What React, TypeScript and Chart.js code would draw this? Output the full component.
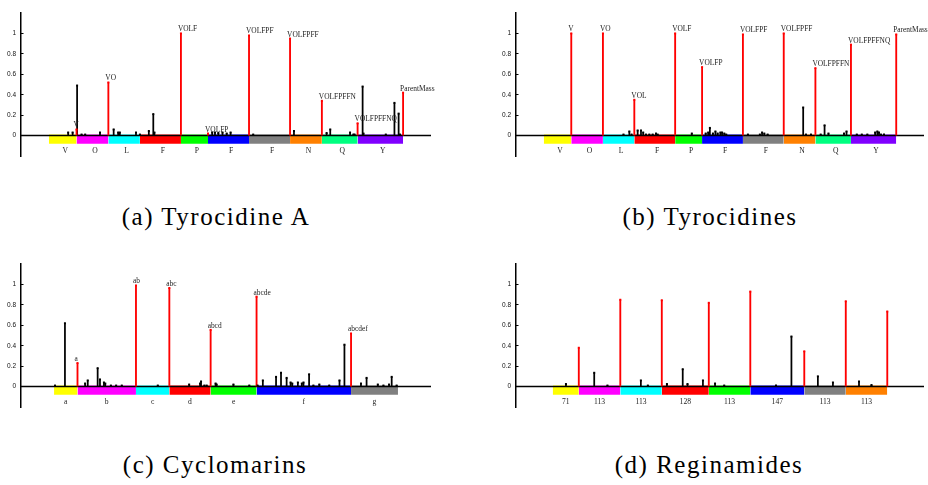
import React, { useEffect, useRef } from 'react';
import { Chart, registerables } from 'chart.js';
Chart.register(...registerables);

const yTicks = [0, 0.2, 0.4, 0.6, 0.8, 1];

// ---- (a) Tyrocidine A
const residuesA = ['V', 'O', 'L', 'F', 'P', 'F', 'F', 'N', 'Q', 'Y'];
const massesA = [99, 114, 113, 147, 97, 147, 147, 114, 128, 163];
const colorsA = ['#ffff00', '#ff00ff', '#00ffff', '#ff0000', '#00ff00', '#0000ff', '#808080', '#ff8000', '#00ff80', '#8000ff'];
const redLabelsA = ['V', 'VO', 'VOLF', 'VOLFP', 'VOLFPF', 'VOLFPFF', 'VOLFPFFN', 'VOLFPFFNQ', 'ParentMass'];
const redMassA = [99, 213, 473, 570, 717, 864, 978, 1106, 1269];
const redHeightA = [0.06, 0.52, 1.0, 0.02, 0.98, 0.95, 0.34, 0.12, 0.42];
const blackMassA = [69, 85, 101, 117, 130, 183, 232, 248, 254, 312, 326, 358, 374, 378, 585, 595, 607, 622, 637, 651, 732, 878, 995, 1008, 1079, 1091, 1095, 1124, 1127, 1207, 1238, 1253, 1258];
const blackHeightA = [0.03, 0.03, 0.49, 0.01, 0.01, 0.03, 0.06, 0.03, 0.03, 0.03, 0.01, 0.045, 0.21, 0.03, 0.03, 0.03, 0.025, 0.03, 0.02, 0.03, 0.01, 0.045, 0.025, 0.06, 0.03, 0.01, 0.01, 0.48, 0.02, 0.01, 0.32, 0.215, 0.01];

// ---- (b) Tyrocidines
const residuesB = ['V', 'O', 'L', 'F', 'P', 'F', 'F', 'N', 'Q', 'Y'];
const massesB = [99, 114, 113, 147, 97, 147, 147, 114, 128, 163];
const colorsB = ['#ffff00', '#ff00ff', '#00ffff', '#ff0000', '#00ff00', '#0000ff', '#808080', '#ff8000', '#00ff80', '#8000ff'];
const redLabelsB = ['V', 'VO', 'VOL', 'VOLF', 'VOLFP', 'VOLFPF', 'VOLFPFF', 'VOLFPFFN', 'VOLFPFFNQ', 'ParentMass'];
const redMassB = [99, 213, 326, 473, 570, 717, 864, 978, 1106, 1269];
const redHeightB = [1.0, 1.0, 0.35, 1.0, 0.67, 0.99, 1.0, 0.66, 0.89, 0.99];
const blackMassB = [287, 308, 316, 338, 350, 358, 368, 380, 392, 404, 410, 533, 583, 592, 598, 609, 618, 626, 636, 642, 650, 657, 735, 778, 786, 794, 806, 934, 944, 962, 997, 1011, 1025, 1081, 1090, 1127, 1145, 1165, 1193, 1201, 1207, 1214, 1225];
const blackHeightB = [0.01, 0.04, 0.01, 0.05, 0.05, 0.03, 0.01, 0.01, 0.01, 0.02, 0.01, 0.02, 0.02, 0.03, 0.075, 0.02, 0.04, 0.02, 0.03, 0.03, 0.02, 0.01, 0.01, 0.01, 0.03, 0.02, 0.01, 0.275, 0.01, 0.01, 0.01, 0.1, 0.02, 0.02, 0.04, 0.01, 0.01, 0.01, 0.03, 0.04, 0.03, 0.01, 0.01];

// ---- (c) Cyclomarins
const residuesC = ['a', 'b', 'c', 'd', 'e', 'f', 'g'];
const massesC = [71, 177, 101, 125, 139, 286, 142];
const colorsC = ['#ffff00', '#ff00ff', '#00ffff', '#ff0000', '#00ff00', '#0000ff', '#808080'];
const redLabelsC = ['a', 'ab', 'abc', 'abcd', 'abcde', 'abcdef'];
const redMassC = [71, 248, 349, 474, 613, 899];
const redHeightC = [0.23, 0.99, 0.965, 0.555, 0.88, 0.52];
const blackMassC = [3, 33, 94, 102, 132, 139, 151, 155, 172, 188, 205, 314, 409, 442, 445, 455, 462, 489, 492, 543, 591, 616, 632, 672, 687, 704, 716, 721, 738, 750, 755, 772, 785, 803, 833, 864, 879, 929, 946, 980, 997, 1014, 1022, 1037];
const blackHeightC = [0.01, 0.62, 0.03, 0.06, 0.18, 0.07, 0.04, 0.03, 0.01, 0.01, 0.01, 0.01, 0.02, 0.03, 0.05, 0.01, 0.01, 0.03, 0.02, 0.02, 0.01, 0.01, 0.06, 0.095, 0.135, 0.085, 0.04, 0.03, 0.04, 0.03, 0.04, 0.12, 0.01, 0.02, 0.01, 0.06, 0.41, 0.03, 0.085, 0.02, 0.01, 0.02, 0.095, 0.01];

// ---- (d) Reginamides
const residuesD = ['71', '113', '113', '128', '113', '147', '113', '113'];
const massesD = [71, 113, 113, 128, 113, 147, 113, 113];
const colorsD = ['#ffff00', '#ff00ff', '#00ffff', '#ff0000', '#00ff00', '#0000ff', '#808080', '#ff8000'];
const redLabelsD: string[] = [];
const redMassD = [71, 184, 297, 425, 538, 685, 798, 911];
const redHeightD = [0.38, 0.85, 0.845, 0.82, 0.93, 0.345, 0.835, 0.735];
const blackMassD = [36, 113, 149, 240, 259, 311, 354, 367, 409, 442, 467, 608, 650, 722, 763, 834, 868];
const blackHeightD = [0.025, 0.135, 0.01, 0.06, 0.01, 0.025, 0.17, 0.025, 0.06, 0.03, 0.01, 0.01, 0.49, 0.1, 0.04, 0.05, 0.015];

const captions = ['(a) Tyrocidine A', '(b) Tyrocidines', '(c) Cyclomarins', '(d) Reginamides'];

type PanelProps = {
  left: number; top: number; width: number;
  residues: string[]; masses: number[]; colors: string[];
  redLabels: string[]; redMass: number[]; redHeight: number[];
  blackMass: number[]; blackHeight: number[]; letterDx: number;
};

function Panel(p: PanelProps) {
  const ref = useRef<HTMLCanvasElement>(null);
  useEffect(() => {
    const total = p.masses.reduce((a, b) => a + b, 0);
    const starts: number[] = [];
    let acc = 0;
    p.masses.forEach((m) => { starts.push(acc); acc += m; });
    const segDatasets = p.masses.map((m, i) => ({
      type: 'line' as const,
      data: [{ x: starts[i], y: 0.01 }, { x: starts[i] + m, y: 0.01 }],
      borderWidth: 0,
      borderColor: 'rgba(0,0,0,0)',
      pointRadius: 0,
      backgroundColor: p.colors[i],
      fill: { value: -0.08 },
      order: 5,
    }));
    const labelsPlugin = {
      id: 'labels' + p.left + '_' + p.top,
      afterDatasetsDraw(chart: any) {
        const xs = chart.scales.x, ys = chart.scales.y;
        const ctx = chart.ctx;
        ctx.save();
        ctx.fillStyle = '#222';
        ctx.font = '7.4px "Liberation Serif"';
        ctx.textAlign = 'left';
        ctx.textBaseline = 'alphabetic';
        p.redLabels.forEach((t, i) => {
          ctx.fillText(t, xs.getPixelForValue(p.redMass[i]) - 3, ys.getPixelForValue(p.redHeight[i]) - 2);
        });
        ctx.font = '7.6px "Liberation Serif"';
        ctx.textAlign = 'center';
        p.residues.forEach((t, i) => {
          ctx.fillText(t, xs.getPixelForValue(starts[i] + p.masses[i] / 2) + p.letterDx, ys.getPixelForValue(-0.172));
        });
        ctx.restore();
      },
    };
    const chart = new Chart(ref.current as HTMLCanvasElement, {
      type: 'bar',
      data: {
        datasets: [
          ...segDatasets,
          {
            type: 'line',
            data: [{ x: -100, y: 0 }, { x: total + 100, y: 0 }],
            borderColor: '#000', borderWidth: 1.5, pointRadius: 0, fill: false, order: 4,
          },
          {
            type: 'bar',
            data: p.blackMass.map((m, i) => ({ x: m, y: [0, p.blackHeight[i]] })),
            backgroundColor: '#000', barThickness: 1.1, grouped: false, borderWidth: 0, order: 3,
          },
          {
            type: 'bar',
            data: p.redMass.map((m, i) => ({ x: m, y: [0, p.redHeight[i]] })),
            backgroundColor: '#ff0000', barThickness: 1.2, grouped: false, borderWidth: 0, order: 2,
          },
          {
            type: 'scatter',
            data: p.blackMass.map((m, i) => ({ x: m, y: p.blackHeight[i] })),
            pointStyle: 'rect', pointRadius: 1.4, backgroundColor: '#000', borderWidth: 0, order: 1,
          },
          {
            type: 'scatter',
            data: p.redMass.map((m, i) => ({ x: m, y: p.redHeight[i] })),
            pointStyle: 'rect', pointRadius: 1.4, backgroundColor: '#ff0000', borderWidth: 0, order: 0,
          },
        ] as any,
      },
      options: {
        responsive: false,
        animation: false,
        devicePixelRatio: 1,
        layout: { padding: { left: 0, right: p.width - 431, top: 13, bottom: 44 } },
        plugins: { legend: { display: false }, tooltip: { enabled: false } },
        scales: {
          x: { type: 'linear', min: -100, max: total + 100, display: false, offset: false },
          y: {
            min: -0.2, max: 1.2,
            afterBuildTicks: (s: any) => { s.ticks = yTicks.map((v) => ({ value: v })); },
            afterFit: (s: any) => { s.width = 21; },
            ticks: { font: { family: '"Liberation Sans"', size: 6.5 }, color: '#111', padding: 7.5, callback: (v: any) => String(v) },
            grid: { drawOnChartArea: false, drawTicks: true, tickLength: -2.5, color: '#000', lineWidth: 1 },
            border: { display: true, color: '#000', width: 1.5 },
          },
        },
      } as any,
      plugins: [labelsPlugin],
    });
    return () => chart.destroy();
  }, []);
  return (
    <canvas ref={ref} width={p.width} height={200}
      style={{ position: 'absolute', left: p.left, top: p.top, width: p.width, height: 200 }} />
  );
}

const capStyle = (cx: number, cy: number): React.CSSProperties => ({
  position: 'absolute', left: cx, top: cy, transform: 'translate(-50%, -50%)',
  fontFamily: '"Liberation Serif", serif', fontSize: 25, letterSpacing: 1.5, whiteSpace: 'nowrap', color: '#000',
});

export default function App() {
  return (
    <div style={{ position: 'absolute', left: 0, top: 0, width: 928, height: 485, background: '#fff', overflow: 'hidden' }}>
      <Panel left={0} top={0} width={460} residues={residuesA} masses={massesA} colors={colorsA}
        redLabels={redLabelsA} redMass={redMassA} redHeight={redHeightA} blackMass={blackMassA} blackHeight={blackHeightA} letterDx={2.5} />
      <Panel left={495} top={0} width={433} residues={residuesB} masses={massesB} colors={colorsB}
        redLabels={redLabelsB} redMass={redMassB} redHeight={redHeightB} blackMass={blackMassB} blackHeight={blackHeightB} letterDx={2.5} />
      <Panel left={0} top={251} width={460} residues={residuesC} masses={massesC} colors={colorsC}
        redLabels={redLabelsC} redMass={redMassC} redHeight={redHeightC} blackMass={blackMassC} blackHeight={blackHeightC} letterDx={0} />
      <Panel left={495} top={251} width={433} residues={residuesD} masses={massesD} colors={colorsD}
        redLabels={redLabelsD} redMass={redMassD} redHeight={redHeightD} blackMass={blackMassD} blackHeight={blackHeightD} letterDx={0} />
      <div style={capStyle(216, 217)}>{captions[0]}</div>
      <div style={capStyle(710, 217)}>{captions[1]}</div>
      <div style={capStyle(215, 465)}>{captions[2]}</div>
      <div style={capStyle(709, 465)}>{captions[3]}</div>
    </div>
  );
}
